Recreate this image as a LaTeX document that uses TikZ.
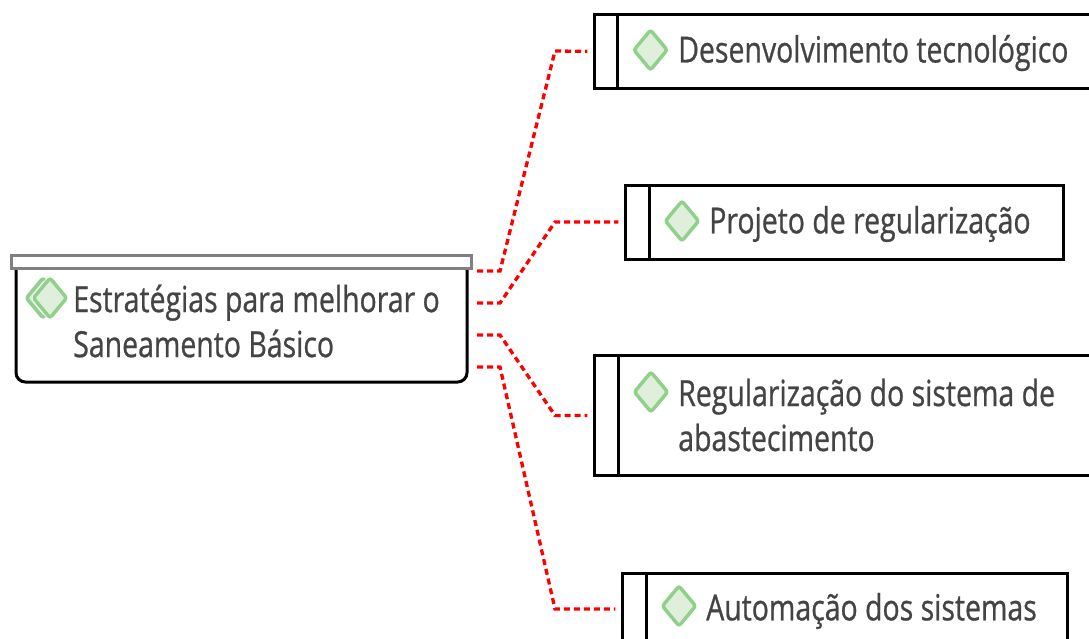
\documentclass[tikz,border=0pt]{standalone}
\usepackage{fontspec}
\setmainfont[FakeStretch=0.79, FakeBold=0.7]{Open Sans}
\usepackage{xcolor}
\usepackage{tikz}
\usetikzlibrary{shapes.geometric}
\definecolor{textgray}{HTML}{444444}
\definecolor{gemfill}{HTML}{E0EFDC}
\definecolor{gemline}{HTML}{8FD08A}
\tikzset{
  box/.style={draw=black, line width=2.25pt, fill=white, anchor=west, minimum height=#1, inner sep=0pt, outer sep=0pt},
  gem/.style={diamond, draw=gemline, fill=gemfill, line width=2.6pt, rounded corners=2pt, minimum width=26pt, minimum height=31pt, inner sep=0pt},
  gemgap/.style={gem, draw=white, fill=white, line width=4.5pt},
  caption/.style={anchor=west, inner sep=0pt, text=textgray, align=left, font=\fontsize{27}{33.75}\selectfont},
  redlink/.style={draw=red, line width=2.5pt, dash pattern=on 4.5pt off 3pt}
}

\begin{document}
\begin{tikzpicture}[x=0.75pt, y=-0.75pt]
\useasboundingbox (0,0) rectangle (1089,639);
\clip (0,0) rectangle (1089,639);

% left box
\draw[draw=black, line width=2.25pt, fill=white, rounded corners=7pt] (16,262) -- (16,382) -- (467,382) -- (467,262);
\node[draw=gray, line width=2.4pt, fill=white, minimum width=345.5pt, minimum height=9.5pt, inner sep=0pt] (Main) at (241.5,262) {};
\node[gem] (M0) at (43,298) {};
\node[gemgap] (M2) at (50,298) {};
\node[gem] (M1) at (50,298) {};
\node[caption] (T0) at (73,321) {Estratégias para melhorar o\\Saneamento Básico};

% right boxes
\node[box=55pt, minimum width=390pt] (B1) at (594,51.5) {};
\node[box=55pt, minimum width=17.5pt] (Tab1) at (594,51.5) {};
\node[gem] (D1) at (650.5,50) {};
\node[caption] (T1) at (678,53) {Desenvolvimento tecnológico};

\node[box=55.5pt, minimum width=329pt] (B2) at (625,222) {};
\node[box=55.5pt, minimum width=18pt] (Tab2) at (625,222) {};
\node[gem] (D2) at (682,221) {};
\node[caption] (T2) at (709,224) {Projeto de regularização};

\node[box=90pt, minimum width=390pt] (B3) at (594,415.5) {};
\node[box=90pt, minimum width=18pt] (Tab3) at (594,415.5) {};
\node[gem] (D3) at (651,392) {};
\node[caption] (T3) at (678,415) {Regularização do sistema de\\abastecimento};

\node[box=54pt, minimum width=334pt] (B4) at (622,609) {};
\node[box=54pt, minimum width=18pt] (Tab4) at (622,609) {};
\node[gem] (D4) at (679,606) {};
\node[caption] (T4) at (706,611) {Automação dos sistemas};

% links
\coordinate (P1) at (477,271);
\coordinate (P2) at (477,303);
\coordinate (P3) at (477,335);
\coordinate (P4) at (477,367);
\path[redlink, shorten >=5pt] (P1) -- (500,271) -- (555,51) -- (B1.west);
\path[redlink, shorten >=5pt] (P2) -- (500,303) -- (555,222) -- (B2.west);
\path[redlink, shorten >=5pt] (P3) -- (500,335) -- (555,415.5) -- (B3.west);
\path[redlink, shorten >=5pt] (P4) -- (500,367) -- (555,609) -- (B4.west);
\end{tikzpicture}
\end{document}
